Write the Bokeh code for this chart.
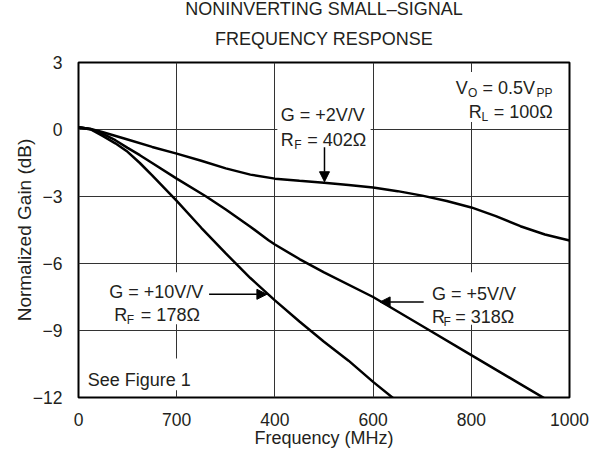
from bokeh.plotting import figure
from bokeh.models import Range1d, FixedTicker, Label, Arrow, NormalHead, BoxAnnotation, Title
from bokeh.embed import file_html
from bokeh.resources import INLINE

# ---------------- data ----------------
x_ticks = [0, 200, 400, 600, 800, 1000]
x_tick_labels = ["0", "700", "400", "600", "800", "1000"]
y_ticks = [3, 0, -3, -6, -9, -12]
y_tick_labels = ["3", "0", "\u22123", "\u22126", "\u22129", "\u221212"]

freq_g2 = [0, 25, 50, 100, 150, 200, 250, 300, 350, 400, 450, 500, 550, 600,
           650, 700, 750, 800, 850, 900, 950, 1000]
gain_g2 = [0.10, 0.02, -0.12, -0.45, -0.78, -1.08, -1.40, -1.74, -2.02, -2.20,
           -2.30, -2.38, -2.48, -2.60, -2.76, -2.96, -3.20, -3.49, -3.88, -4.33,
           -4.70, -4.97]

freq_g5 = [0, 25, 50, 75, 100, 125, 150, 200, 260, 300, 350, 387, 400, 450,
           500, 600, 700, 800, 900, 950]
gain_g5 = [0.10, 0.02, -0.20, -0.48, -0.82, -1.15, -1.50, -2.20, -3.00, -3.58,
           -4.35, -4.96, -5.15, -5.80, -6.40, -7.50, -8.80, -10.10, -11.40,
           -12.05]

freq_g10 = [0, 25, 50, 75, 100, 125, 150, 200, 250, 300, 350, 400, 450, 500,
            550, 600, 645]
gain_g10 = [0.10, 0.00, -0.30, -0.62, -1.00, -1.50, -2.05, -3.20, -4.40, -5.55,
            -6.65, -7.65, -8.60, -9.50, -10.35, -11.30, -12.10]

TXT = "#231f20"
FONT = "Liberation Sans"

p = figure(width=589, height=450, output_backend="svg", toolbar_location=None,
           x_range=Range1d(0, 1000), y_range=Range1d(-12, 3),
           min_border_left=78, min_border_right=20,
           min_border_top=62, min_border_bottom=53,
           background_fill_color="white", border_fill_color="white")

# titles (title added later sits closer to the frame)
p.title.text = "NONINVERTING SMALL\u2013SIGNAL"
p.title.align = "center"
p.title.text_font = FONT
p.title.text_font_size = "18px"
p.title.text_font_style = "normal"
p.title.text_color = TXT
p.title.standoff = -12
p.add_layout(Title(text="FREQUENCY RESPONSE", align="center",
                   text_font=FONT, text_font_size="18px",
                   text_font_style="normal", text_color=TXT, standoff=28), "above")

# frame / grid
p.outline_line_color = "black"
p.outline_line_width = 2
for ax in (p.xaxis[0], p.yaxis[0]):
    ax.axis_line_color = None
    ax.major_tick_line_color = None
    ax.minor_tick_line_color = None
    ax.major_tick_out = 0
    ax.major_tick_in = 0
    ax.minor_tick_out = 0
    ax.minor_tick_in = 0
    ax.major_label_text_font = FONT
    ax.major_label_text_font_size = "17.5px"
    ax.major_label_text_color = TXT
    ax.axis_label_text_font = FONT
    ax.axis_label_text_font_style = "normal"
    ax.axis_label_text_color = TXT

p.xaxis.ticker = FixedTicker(ticks=x_ticks)
p.yaxis.ticker = FixedTicker(ticks=y_ticks)
p.xaxis.major_label_overrides = dict(zip(x_ticks, x_tick_labels))
p.yaxis.major_label_overrides = dict(zip(y_ticks, y_tick_labels))
p.xaxis.axis_label = "Frequency (MHz)"
p.yaxis.axis_label = "Normalized Gain (dB)"
p.xaxis.axis_label_text_font_size = "18px"
p.yaxis.axis_label_text_font_size = "19px"
p.xaxis.major_label_standoff = 15
p.yaxis.major_label_standoff = 16
p.xaxis.axis_label_standoff = -1
p.yaxis.axis_label_standoff = -5

p.xgrid.ticker = FixedTicker(ticks=x_ticks)
p.ygrid.ticker = FixedTicker(ticks=y_ticks)
for g in (p.xgrid[0], p.ygrid[0]):
    g.grid_line_color = "#333333"
    g.grid_line_width = 1

# curves
for fx, gy in ((freq_g2, gain_g2), (freq_g5, gain_g5), (freq_g10, gain_g10)):
    p.line(fx, gy, line_color="black", line_width=2.5)

# white boxes behind the annotation texts (interrupting the grid)
boxes = [
    (405, 595, 1.46, -0.74),
    (760, 978, 2.58, 0.34),
    (56, 262, -6.39, -8.72),
    (714, 905, -6.39, -8.74),
    (14, 242, -10.25, -11.68),
]
for l, r, t, b in boxes:
    p.add_layout(BoxAnnotation(left=l, right=r, top=t, bottom=b,
                               fill_color="white", fill_alpha=1.0,
                               line_color=None))


def txt(x, y, s, size="18px", align="left"):
    p.add_layout(Label(x=x, y=y, text=s, text_font=FONT, text_font_size=size,
                       text_color=TXT, text_align=align,
                       text_baseline="alphabetic"))


SUB = "12px"
# G = +2V/V
txt(411.9, 0.628, "G = +2V/V")
txt(411.9, -0.448, "R")
txt(439.5, -0.673, "F", SUB)
txt(465.7, -0.448, "= 402\u03a9")
# V_O / R_L
txt(768.1, 1.848, "V")
txt(793.3, 1.623, "O", SUB)
txt(822.6, 1.848, "= 0.5V")
txt(933.0, 1.623, "PP", SUB)
txt(795.0, 0.798, "R")
txt(820.6, 0.560, "L", SUB)
txt(845.8, 0.798, "= 100\u03a9")
# G = +10V/V
txt(62.5, -7.274, "G = +10V/V")
txt(72.6, -8.296, "R")
txt(98.2, -8.520, "F", SUB)
txt(127.0, -8.296, "= 178\u03a9")
# G = +5V/V
txt(719.8, -7.345, "G = +5V/V")
txt(719.8, -8.395, "R")
txt(743.3, -8.619, "F", SUB)
txt(767.1, -8.395, "= 318\u03a9")
# See Figure 1
txt(18.75, -11.233, "See Figure 1")

# arrows
head = dict(size=10, fill_color="black", line_color="black")
p.add_layout(Arrow(x_start=501, y_start=-0.80, x_end=501, y_end=-2.34,
                   end=NormalHead(**head), line_color="black", line_width=1.5))
p.add_layout(Arrow(x_start=266, y_start=-7.38, x_end=383.7, y_end=-7.38,
                   end=NormalHead(**head), line_color="black", line_width=1.5))
p.add_layout(Arrow(x_start=703, y_start=-7.72, x_end=614.3, y_end=-7.72,
                   end=NormalHead(**head), line_color="black", line_width=1.5))

open("out.html", "w").write(file_html(p, INLINE))
